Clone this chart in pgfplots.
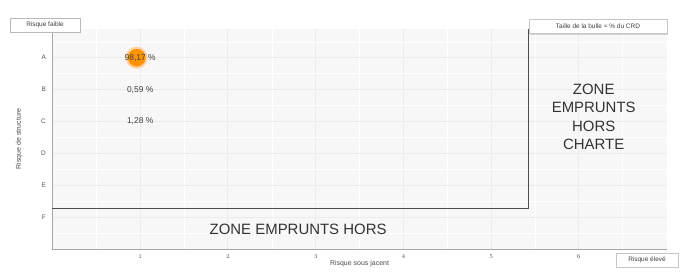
\documentclass[border=0pt]{standalone}
\usepackage{pgfplots}
\pgfplotsset{compat=1.18}
\usepackage{fontspec}
\setmainfont{Liberation Sans}
\usetikzlibrary{shadows}
\begin{document}
\begin{tikzpicture}[x=1bp,y=1bp]
\begin{axis}[
  at={(0,0)}, anchor=south west,
  scale only axis, width=614bp, height=220bp,
  xmin=0, xmax=7, ymin=0, ymax=6.9,
  axis lines=left, axis line style={-, draw=gray!70, line width=0.9pt},
  axis background/.style={fill=gray!6},
  xtick={1,2,3,4,5,6},
  ytick={1,2,3,4,5,6},
  yticklabels={F,E,D,C,B,A},
  minor xtick={0.5,1.5,2.5,3.5,4.5,5.5,6.5},
  minor ytick={0.5,1.5,2.5,3.5,4.5,5.5,6.5},
  grid=both,
  major grid style={draw=gray!15, line width=1pt},
  minor grid style={draw=white, line width=0.5pt},
  tick style={draw=none},
  ticklabel style={font=\fontsize{6.5}{7}\selectfont, text=gray!60!black},
  yticklabel style={xshift=-1bp},
  xlabel={Risque sous jacent},
  ylabel={Risque de structure},
  label style={font=\fontsize{7}{8}\selectfont, text=gray!60!black},
  xlabel style={yshift=5bp},
  ylabel style={yshift=12bp},
  clip=false,
]
% charter zone boundary
\addplot[draw=black!70, line width=1.3pt] coordinates {(0,1.28) (5.43,1.28) (5.43,6.9)};
% bubble
\addplot[only marks, mark=*, mark size=10bp, mark options={draw=orange!35, line width=2pt, fill=orange!85!yellow}] coordinates {(0.96,6)};
% labels
\addplot[only marks, mark=none, nodes near coords, point meta=explicit symbolic,
  nodes near coords style={anchor=center, font=\fontsize{8.5}{9}\selectfont, text=black!75}]
  coordinates {(1,6)[98,17 \%] (1,5)[0,59 \%] (1,4)[1,28 \%]};
\node[font=\fontsize{15}{17}\selectfont, text=black!80] at (axis cs:2.8,0.63) {ZONE EMPRUNTS HORS};
\node[font=\fontsize{15}{18.5}\selectfont, text=black!80, align=center] at (axis cs:6.17,4.15) {ZONE\\EMPRUNTS\\HORS\\CHARTE};
\end{axis}
\node[draw=gray!55, fill=white, drop shadow={shadow xshift=1bp, shadow yshift=-1bp, opacity=0.3}, font=\fontsize{6.5}{7}\selectfont, inner sep=2bp, minimum width=70bp, minimum height=14bp, text=black!75] at (-7.5,224) {Risque faible};
\node[draw=gray!45, fill=white, drop shadow={shadow xshift=1bp, shadow yshift=-1bp, opacity=0.3}, font=\fontsize{6.5}{7}\selectfont, inner sep=2bp, minimum width=138bp, minimum height=14bp, text=black!75] at (545.5,222.5) {Taille de la bulle = \% du CRD};
\node[draw=gray!45, fill=white, drop shadow={shadow xshift=1bp, shadow yshift=-1bp, opacity=0.3}, font=\fontsize{6.5}{7}\selectfont, inner sep=2bp, minimum width=62bp, minimum height=14bp, text=black!75] at (594.5,-11) {Risque élevé};
\useasboundingbox (-52.5,-24) rectangle (627.5,249);
\end{tikzpicture}
\end{document}
